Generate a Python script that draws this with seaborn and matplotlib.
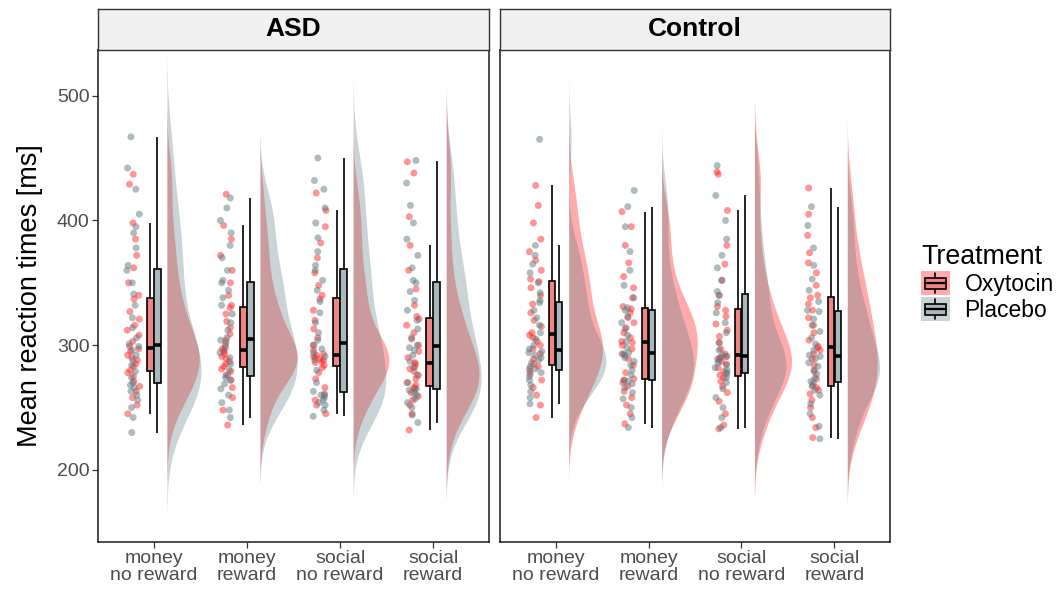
import numpy as np
import pandas as pd
import matplotlib
matplotlib.use("Agg")
import matplotlib.pyplot as plt
import matplotlib.colors as mcolors
import matplotlib.transforms as mtransforms
from matplotlib.patches import Patch, Rectangle
from matplotlib.lines import Line2D
from matplotlib.legend_handler import HandlerBase
import seaborn as sns

groups = ["ASD", "Control"]
conditions = ["money\nno reward", "money\nreward", "social\nno reward", "social\nreward"]
treatments = ["Oxytocin", "Placebo"]

# mean reaction times [ms], one value per participant
asd_money_noreward_oxy = [245, 252, 258, 263, 267, 271, 275, 278, 280, 283, 285, 288, 290, 292, 295, 297,
                          299, 303, 308, 312, 316, 321, 327, 337, 340, 350, 362, 372, 385, 398, 429, 437]
asd_money_noreward_pla = [230, 242, 250, 256, 260, 263, 266, 268, 270, 274, 279, 284, 288, 292, 296, 299,
                          301, 306, 314, 322, 332, 341, 350, 360, 364, 378, 390, 395, 405, 425, 442, 467]
asd_money_reward_oxy = [236, 248, 258, 266, 272, 276, 279, 281, 283, 285, 287, 289, 291, 293, 295, 296,
                        297, 300, 304, 309, 314, 319, 325, 330, 332, 340, 350, 360, 372, 385, 396, 421]
asd_money_reward_pla = [242, 248, 254, 260, 265, 269, 272, 274, 276, 280, 285, 290, 294, 298, 302, 304,
                        306, 312, 318, 325, 332, 338, 344, 350, 352, 360, 370, 380, 390, 400, 410, 418]
asd_social_noreward_oxy = [245, 252, 256, 260, 266, 273, 278, 282, 284, 286, 287, 288, 289, 290, 291, 292,
                           293, 296, 300, 306, 313, 320, 328, 337, 340, 348, 358, 370, 382, 395, 408, 422]
asd_social_noreward_pla = [243, 248, 252, 254, 256, 258, 260, 261, 263, 270, 280, 288, 291, 294, 297, 300,
                           304, 310, 318, 326, 335, 344, 352, 360, 364, 375, 386, 398, 410, 425, 432, 450]
asd_social_reward_oxy = [232, 245, 252, 256, 259, 262, 265, 266, 268, 270, 273, 276, 279, 281, 283, 285,
                         286, 290, 295, 300, 305, 310, 316, 321, 323, 332, 345, 360, 380, 403, 438, 447]
asd_social_reward_pla = [238, 244, 250, 254, 257, 260, 262, 264, 265, 270, 276, 282, 287, 292, 296, 298,
                         300, 306, 313, 320, 328, 336, 343, 350, 352, 362, 372, 385, 398, 412, 430, 448]
ctl_money_noreward_oxy = [242, 252, 260, 266, 272, 277, 281, 283, 285, 289, 293, 297, 300, 303, 306, 308,
                          310, 315, 320, 326, 333, 340, 346, 351, 353, 360, 368, 375, 385, 398, 412, 428]
ctl_money_noreward_pla = [253, 258, 263, 268, 272, 275, 278, 279, 281, 283, 286, 288, 290, 292, 294, 295,
                          297, 300, 305, 310, 316, 322, 328, 334, 336, 342, 350, 358, 365, 372, 380, 465]
ctl_money_reward_oxy = [237, 245, 252, 258, 263, 267, 270, 272, 273, 278, 284, 289, 293, 297, 300, 302,
                        303, 306, 310, 314, 318, 322, 326, 329, 331, 338, 346, 355, 366, 380, 395, 407]
ctl_money_reward_pla = [234, 242, 250, 257, 262, 266, 269, 271, 272, 276, 280, 284, 287, 290, 292, 293,
                        294, 298, 303, 308, 313, 318, 323, 328, 330, 338, 348, 360, 375, 395, 411, 424]
ctl_social_noreward_oxy = [233, 236, 245, 255, 262, 267, 271, 274, 276, 279, 282, 285, 287, 289, 290, 291,
                           293, 297, 302, 307, 312, 317, 323, 328, 331, 340, 352, 365, 380, 408, 437, 439]
ctl_social_noreward_pla = [234, 242, 250, 258, 265, 270, 274, 277, 278, 280, 282, 284, 286, 288, 290, 291,
                           292, 296, 302, 310, 318, 326, 334, 340, 343, 352, 362, 372, 385, 400, 420, 444]
ctl_social_reward_oxy = [226, 234, 242, 250, 256, 261, 264, 266, 268, 273, 279, 284, 289, 293, 296, 298,
                         299, 304, 310, 316, 322, 328, 333, 338, 340, 348, 358, 366, 374, 388, 405, 426]
ctl_social_reward_pla = [225, 235, 245, 253, 260, 264, 267, 270, 271, 274, 277, 280, 283, 286, 289, 291,
                         292, 296, 301, 306, 311, 316, 321, 327, 328, 335, 344, 353, 364, 378, 396, 411]

series = [
    ("ASD", 0, "Oxytocin", asd_money_noreward_oxy), ("ASD", 0, "Placebo", asd_money_noreward_pla),
    ("ASD", 1, "Oxytocin", asd_money_reward_oxy), ("ASD", 1, "Placebo", asd_money_reward_pla),
    ("ASD", 2, "Oxytocin", asd_social_noreward_oxy), ("ASD", 2, "Placebo", asd_social_noreward_pla),
    ("ASD", 3, "Oxytocin", asd_social_reward_oxy), ("ASD", 3, "Placebo", asd_social_reward_pla),
    ("Control", 0, "Oxytocin", ctl_money_noreward_oxy), ("Control", 0, "Placebo", ctl_money_noreward_pla),
    ("Control", 1, "Oxytocin", ctl_money_reward_oxy), ("Control", 1, "Placebo", ctl_money_reward_pla),
    ("Control", 2, "Oxytocin", ctl_social_noreward_oxy), ("Control", 2, "Placebo", ctl_social_noreward_pla),
    ("Control", 3, "Oxytocin", ctl_social_reward_oxy), ("Control", 3, "Placebo", ctl_social_reward_pla),
]

rows = []
for grp, cond, trt, vals in series:
    for v in vals:
        rows.append({"Group": grp, "cond": cond, "Treatment": trt, "rt": v})
df = pd.DataFrame(rows)
# raincloud layout: points left, boxes centred, half violin right
df["x_pts"] = df["cond"] - 0.22
df["x_box"] = df["cond"].astype(float)
df["x_vio"] = df["cond"] + 0.14
vio_base = np.arange(len(conditions)) + 0.14
vio_halfwidth = 0.40

point_pal = {"Oxytocin": "#FF2A2A", "Placebo": "#5E7A80"}
box_pal = {"Oxytocin": "#F08585", "Placebo": "#A9B8BB"}
vio_pal = {"Oxytocin": "#FF0000", "Placebo": "#5F7A80"}


class BoxKey(HandlerBase):
    def __init__(self, bg, fill):
        super().__init__()
        self.bg, self.fill = bg, fill

    def create_artists(self, legend, orig_handle, xd, yd, w, h, fontsize, trans):
        x0, y0 = -xd, -yd
        cx, cy = x0 + w / 2, y0 + h / 2
        arts = [
            Rectangle((x0, y0), w, h, facecolor=self.bg, alpha=0.33, edgecolor="none"),
            Line2D([cx, cx], [y0 + 0.08 * h, y0 + 0.92 * h], color="black", lw=1.2),
            Rectangle((x0 + 0.13 * w, y0 + 0.27 * h), 0.74 * w, 0.46 * h,
                      facecolor=self.fill, edgecolor="black", lw=1.2),
            Line2D([x0 + 0.13 * w, x0 + 0.87 * w], [cy, cy], color="black", lw=1.6),
        ]
        for a in arts:
            a.set_transform(trans)
        return arts


sns.set_style("white")
plt.rcParams["font.family"] = ["Liberation Sans", "DejaVu Sans"]
np.random.seed(7)

W, H = 1058, 593
fig = plt.figure(figsize=(W / 100, H / 100), dpi=100)
bottom = (H - 541.7) / H
height = (541.7 - 50) / H
panel_left = [98, 500]
panel_width = [391, 390]

axes = []
halves = []  # (ax, collection, straight edge, direction, target base, extent)
for i, grp in enumerate(groups):
    ax = fig.add_axes([panel_left[i] / W, bottom, panel_width[i] / W, height])
    axes.append(ax)
    sub = df[df["Group"] == grp]

    n0 = len(ax.collections)
    sns.violinplot(data=sub, x="x_vio", y="rt", hue="Treatment", hue_order=treatments,
                   palette=vio_pal, split=True, dodge=False, inner=None, native_scale=True,
                   cut=2.6, bw_adjust=0.8, density_norm="area", width=0.8, saturation=1,
                   linewidth=0, alpha=0.33, legend=False, ax=ax)
    new = [c for c in ax.collections[n0:] if len(c.get_paths())]
    for trt in treatments:
        rgb = np.array(mcolors.to_rgb(vio_pal[trt]))
        mine = []
        for c in new:
            if np.allclose(c.get_facecolor()[0][:3], rgb, atol=0.03):
                xs = np.concatenate([p.vertices[:, 0] for p in c.get_paths()])
                lo, hi = xs.min(), xs.max()
                if np.isclose(xs, hi).sum() > np.isclose(xs, lo).sum():
                    edge, sign = hi, -1
                else:
                    edge, sign = lo, 1
                mine.append((edge, sign, np.abs(xs - edge).max(), c))
        mine.sort(key=lambda m: m[0])
        for base, (edge, sign, ext, c) in zip(vio_base, mine):
            halves.append((ax, c, edge, sign, base, ext))

    sns.stripplot(data=sub, x="x_pts", y="rt", hue="Treatment", hue_order=treatments,
                  palette=point_pal, native_scale=True, jitter=0.07, size=5, alpha=0.5,
                  linewidth=0, legend=False, ax=ax)
    sns.boxplot(data=sub, x="x_box", y="rt", hue="Treatment", hue_order=treatments,
                palette=box_pal, native_scale=True, width=0.15, gap=0.08, dodge=True,
                showfliers=False, showcaps=False, saturation=1, linecolor="black",
                linewidth=1.2, medianprops={"linewidth": 2.6}, legend=False, ax=ax)

    ax.set_xlim(-0.6, 3.6)
    ax.set_ylim(142.5, 536.6)
    ax.set_xticks(range(4))
    ax.set_xticklabels(conditions, linespacing=1.0)
    ax.set_yticks([200, 300, 400, 500])
    ax.set_xlabel("")
    ax.set_ylabel("")
    ax.tick_params(axis="both", length=4, width=0.9, color="#333333", labelcolor="#4D4D4D",
                   labelsize=14, pad=2, bottom=True, left=True)
    for s in ax.spines.values():
        s.set_color("#1A1A1A")
        s.set_linewidth(1.1)
    if i == 1:
        ax.tick_params(axis="y", left=False, labelleft=False)

    strip = fig.add_axes([panel_left[i] / W, (H - 50) / H, panel_width[i] / W, 41 / H])
    strip.set_facecolor("#F0F0F0")
    strip.set_xticks([])
    strip.set_yticks([])
    for s in strip.spines.values():
        s.set_color("#333333")
        s.set_linewidth(1.0)
    strip.text(0.5, 0.5, grp, ha="center", va="center", fontsize=19, fontweight="bold",
               color="black", transform=strip.transAxes)

# put every half violin on the right of its base line, common scale for all panels
k = vio_halfwidth / max(h[5] for h in halves)
for ax, c, edge, sign, base, ext in halves:
    c.set_transform(mtransforms.Affine2D().translate(-edge, 0).scale(sign * k, 1)
                    .translate(base, 0) + ax.transData)

axes[0].set_ylabel("Mean reaction times [ms]", fontsize=19.5, color="black")
axes[0].yaxis.set_label_coords(-0.14, 0.5)

handles = [Patch(facecolor=box_pal[t]) for t in treatments]
hmap = {h: BoxKey(vio_pal[t], box_pal[t]) for h, t in zip(handles, treatments)}
leg = fig.legend(handles, treatments, handler_map=hmap, title="Treatment", loc="upper left",
                 bbox_to_anchor=(921 / W, 1 - 244 / H), borderpad=0, borderaxespad=0,
                 frameon=False, fontsize=16.5, title_fontsize=19.3, alignment="left",
                 handlelength=1.25, handleheight=1.25, labelspacing=0.05, handletextpad=0.65)
leg.get_title().set_color("black")
for t in leg.get_texts():
    t.set_color("black")

fig.savefig("out.png", dpi=100)
